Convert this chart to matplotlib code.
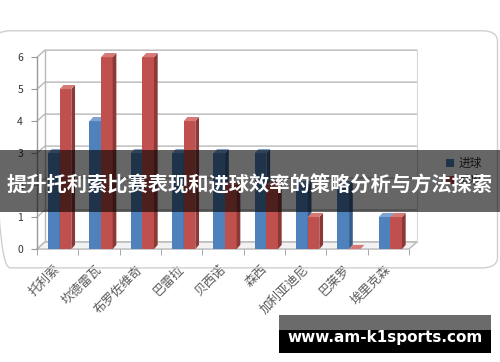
import numpy as np
import matplotlib
matplotlib.use("Agg")
import matplotlib.pyplot as plt
from matplotlib.patches import Polygon, Rectangle, FancyBboxPatch
from matplotlib.transforms import ScaledTranslation

plt.rcParams['font.family'] = ['Noto Sans CJK SC', 'DejaVu Sans']

players = ["托利索", "坎德雷瓦", "布罗佐维奇", "巴雷拉", "贝西诺", "森西", "加利亚迪尼", "巴莱罗", "埃里克森"]
goals = [3, 4, 3, 3, 3, 3, 2, 2, 1]
assists = [5, 6, 6, 4, 2, 2, 1, 0, 1]
yticks = [0, 1, 2, 3, 4, 5, 6]

fig = plt.figure(figsize=(5, 3.62), dpi=100)
ax = fig.add_axes([0.074, 0.312, 0.744, 0.530])
n = len(players)
ax.set_xlim(-0.5, n - 0.5)
ax.set_ylim(0, 6)

# depth of the fake 3D walls, in data units
ox, oy = 0.19, 0.22
x0, x1 = -0.5, n - 0.5
wall = "#b8b8b8"

# back wall gridlines + diagonals to front axis
for v in yticks:
    ax.plot([x0, x0 + ox, x1 + ox], [v, v + oy, v + oy], color=wall, lw=1, clip_on=False, zorder=1)
ax.plot([x0 + ox, x0 + ox], [oy, 6 + oy], color=wall, lw=1, clip_on=False, zorder=1)
ax.plot([x1 + ox, x1 + ox], [oy, 6 + oy], color="#d8d8d8", lw=0.8, clip_on=False, zorder=1)
# floor
ax.add_patch(Polygon([[x0, 0], [x1, 0], [x1 + ox, oy], [x0 + ox, oy]], closed=True,
                     facecolor="#f2f2f2", edgecolor=wall, lw=1, clip_on=False, zorder=1))
ax.plot([x0, x0], [0, 6], color="#999999", lw=1, clip_on=False, zorder=2)

w = 0.28
dx, dy = 0.09, 0.13
x = np.arange(n) + 0.05
series = [(goals, x - w / 2, "#4F81BD", "#375d8c", "#7ea3d3", "进球"),
          (assists, x + w / 2, "#C0504D", "#8c3836", "#d57a77", "助攻")]
for vals, xs, front, side, top, lab in series:
    bars = ax.bar(xs, vals, width=w, color=front, zorder=3, label=lab, clip_on=False)
    for b, v in zip(bars, vals):
        l, r = b.get_x(), b.get_x() + b.get_width()
        ax.add_patch(Polygon([[r, 0], [r, v], [r + dx, v + dy], [r + dx, dy]], closed=True,
                             facecolor=side, edgecolor="none", zorder=3, clip_on=False))
        ax.add_patch(Polygon([[l, v], [r, v], [r + dx, v + dy], [l + dx, v + dy]], closed=True,
                             facecolor=top, edgecolor="none", zorder=3, clip_on=False))

for s in ax.spines.values():
    s.set_visible(False)
ax.set_yticks(yticks)
ax.tick_params(axis='y', length=4, color="#999999", labelsize=7.5, labelcolor="#333333", pad=6)
ax.set_xticks(np.arange(n))
ax.set_xticklabels(players, rotation=45, ha='right', rotation_mode='anchor',
                   fontsize=9, color="#5a5a5a")
ax.tick_params(axis='x', length=0, pad=10)
for t in ax.get_xticklabels():
    t.set_transform(t.get_transform() + ScaledTranslation(-3 / 72, 0, fig.dpi_scale_trans))
ax.set_xticks(np.arange(n + 1) - 0.5, minor=True)
ax.tick_params(axis='x', which='minor', length=4, color="#999999")
ax.patch.set_visible(False)

leg = ax.legend(loc='center left', bbox_to_anchor=(1.07, 0.40), frameon=False,
                fontsize=8.5, handlelength=0.7, handleheight=0.7, handletextpad=0.4,
                labelspacing=0.35, labelcolor="#333333")

# faint rounded chart border
fig.add_artist(FancyBboxPatch((-0.01, 0.26), 1.005, 0.655, boxstyle="round,pad=0,rounding_size=0.03",
                              transform=fig.transFigure, facecolor="none", edgecolor="#d0d0d0",
                              lw=1, zorder=0.5))

# title banner overlay
fig.add_artist(Rectangle((0, 0.414), 1, 0.171, transform=fig.transFigure,
                         facecolor="black", alpha=0.6, edgecolor="none", zorder=10))
fig.text(0.5, 0.49, "提升托利索比赛表现和进球效率的策略分析与方法探索", color="white",
         fontsize=14.6, fontweight='bold', ha='center', va='center', zorder=11)

# watermark
fig.add_artist(Rectangle((0.558, 0.025), 0.424, 0.064, transform=fig.transFigure,
                         facecolor="black", edgecolor="none", zorder=10))
fig.add_artist(Rectangle((0.558, 0.089), 0.424, 0.041, transform=fig.transFigure,
                         facecolor="#6b6b6b", edgecolor="none", zorder=10))
fig.text(0.77, 0.069, "www.am-k1sports.com", color="white", fontsize=11,
         fontweight='bold', family='DejaVu Sans', ha='center', va='center', zorder=11)

fig.savefig("out.png", dpi=100)
